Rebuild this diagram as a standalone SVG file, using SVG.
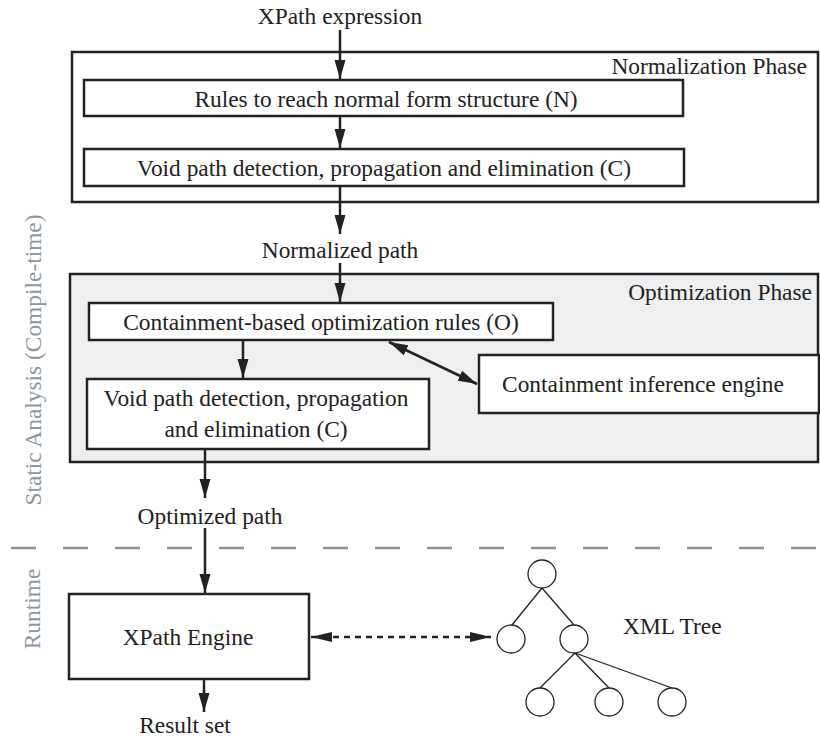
<svg xmlns="http://www.w3.org/2000/svg" width="820" height="740" viewBox="0 0 820 740">
<style>
.t{font-family:"Liberation Serif","Times New Roman",serif;font-size:23.4px;fill:#222}
.g{font-family:"Liberation Serif","Times New Roman",serif;font-size:23.4px;fill:#8e97a1}
.box{fill:#fff;stroke:#222;stroke-width:2.5}
.ln{stroke:#222;stroke-width:2.5;fill:none}
.tr{stroke:#222;stroke-width:1.3;fill:none}
.c{fill:#fff;stroke:#222;stroke-width:1.3}
</style>
<defs>
<marker id="ah" viewBox="0 0 19 12" refX="19" refY="6" markerWidth="19" markerHeight="12" orient="auto-start-reverse" markerUnits="userSpaceOnUse">
<path d="M0,0.5 L19,6 L0,11.5 z" fill="#222"/>
</marker>
<marker id="ah2" viewBox="0 0 21 12" refX="21" refY="6" markerWidth="21" markerHeight="12" orient="auto-start-reverse" markerUnits="userSpaceOnUse">
<path d="M0,1 L21,6 L0,11 z" fill="#222"/>
</marker>
</defs>
<rect width="820" height="740" fill="#fff"/>
<g id="phase-normalization">
<rect x="72" y="52" width="746" height="150" class="box"/>
<text x="807" y="74" class="t" text-anchor="end">Normalization Phase</text>
</g>
<g id="phase-optimization">
<rect x="70" y="274" width="748" height="188" fill="#eeeff1" stroke="#222" stroke-width="2.5"/>
<text x="812" y="300" class="t" text-anchor="end">Optimization Phase</text>
</g>
<g id="label-xpath-expression"><text x="340" y="24" class="t" text-anchor="middle">XPath expression</text></g>
<g id="node-N">
<rect x="84" y="80" width="599" height="36" class="box"/>
<text x="386" y="107" class="t" text-anchor="middle">Rules to reach normal form structure (N)</text>
</g>
<g id="node-C1">
<rect x="84" y="149" width="600" height="37" class="box"/>
<text x="384" y="176" class="t" text-anchor="middle">Void path detection, propagation and elimination (C)</text>
</g>
<g id="label-normalized"><text x="340" y="258" class="t" text-anchor="middle">Normalized path</text></g>
<g id="node-O">
<rect x="89" y="303" width="464" height="37" class="box"/>
<text x="321" y="330" class="t" text-anchor="middle">Containment-based optimization rules (O)</text>
</g>
<g id="node-C2">
<rect x="87" y="379" width="342" height="70" class="box"/>
<text x="256" y="406" class="t" text-anchor="middle">Void path detection, propagation</text>
<text x="256" y="437" class="t" text-anchor="middle">and elimination (C)</text>
</g>
<g id="node-engine">
<rect x="479" y="355" width="340" height="58" class="box"/>
<text x="643" y="392" class="t" text-anchor="middle">Containment inference engine</text>
</g>
<g id="label-optimized"><text x="210" y="524" class="t" text-anchor="middle">Optimized path</text></g>
<g id="separator">
<line x1="11" y1="548" x2="820" y2="548" stroke="#8a9299" stroke-width="2.5" stroke-dasharray="25 27"/>
</g>
<g id="label-static"><text transform="translate(41,360) rotate(-90)" class="g" text-anchor="middle">Static Analysis (Compile-time)</text></g>
<g id="label-runtime"><text transform="translate(40,609) rotate(-90)" class="g" text-anchor="middle">Runtime</text></g>
<g id="node-xpath-engine">
<rect x="69" y="594" width="240" height="85" class="box"/>
<text x="188" y="645" class="t" text-anchor="middle">XPath Engine</text>
</g>
<g id="label-result"><text x="185" y="733" class="t" text-anchor="middle">Result set</text></g>
<g id="xml-tree">
<line x1="542" y1="588" x2="512" y2="625" class="tr"/>
<line x1="542" y1="588" x2="574" y2="625" class="tr"/>
<line x1="575" y1="653" x2="540" y2="688" class="tr"/>
<line x1="575" y1="653" x2="609" y2="688" class="tr"/>
<line x1="575" y1="653" x2="672" y2="688" class="tr"/>
<circle cx="542" cy="574" r="14" class="c"/>
<circle cx="511" cy="639" r="14" class="c"/>
<circle cx="574" cy="639" r="14" class="c"/>
<circle cx="540" cy="702" r="14" class="c"/>
<circle cx="609" cy="702" r="14" class="c"/>
<circle cx="672" cy="702" r="14" class="c"/>
<text x="623" y="634" class="t">XML Tree</text>
</g>
<g id="connectors">
<line x1="340" y1="30" x2="340" y2="79" class="ln" marker-end="url(#ah)"/>
<line x1="340" y1="117" x2="340" y2="148" class="ln" marker-end="url(#ah)"/>
<line x1="340" y1="187" x2="340" y2="234" class="ln" marker-end="url(#ah)"/>
<line x1="340" y1="263" x2="340" y2="302" class="ln" marker-end="url(#ah)"/>
<line x1="243" y1="341" x2="243" y2="378" class="ln" marker-end="url(#ah)"/>
<line x1="389" y1="342" x2="477" y2="384" class="ln" marker-start="url(#ah)" marker-end="url(#ah)"/>
<line x1="205" y1="450" x2="205" y2="498" class="ln" marker-end="url(#ah)"/>
<line x1="205" y1="528" x2="205" y2="593" class="ln" marker-end="url(#ah)"/>
<line x1="204" y1="680" x2="204" y2="712" class="ln" marker-end="url(#ah)"/>
<line x1="311" y1="637" x2="491" y2="637" class="ln" stroke-dasharray="6 5" marker-start="url(#ah2)" marker-end="url(#ah2)"/>
</g>
</svg>
